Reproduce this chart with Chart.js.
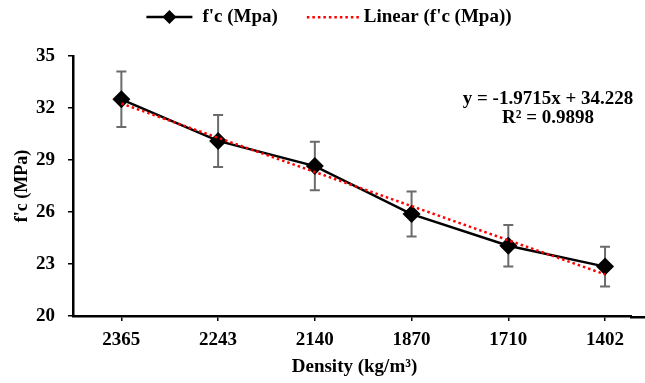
<!DOCTYPE html>
<html>
<head>
<meta charset="utf-8">
<script src="https://cdn.jsdelivr.net/npm/chart.js@4"></script>
<style>
  html, body { margin: 0; padding: 0; background: #fff; }
  #wrap { width: 645px; height: 383px; }
</style>
</head>
<body>
<div id="wrap"><canvas id="chart" width="645" height="383"></canvas></div>
<script>
// データ
const densities = ["2365", "2243", "2140", "1870", "1710", "1402"];
const strength = [32.5, 30.1, 28.65, 25.88, 24.05, 22.85];
const errors = [1.6, 1.5, 1.4, 1.3, 1.2, 1.15];
const trend = [32.26, 30.28, 28.31, 26.34, 24.37, 22.40];
const yTicks = [20, 23, 26, 29, 32, 35];
const equation = ["y = -1.9715x + 34.228", "R\u00b2 = 0.9898"];

const FONT = "'Liberation Serif', 'Times New Roman', serif";

// エラーバーと凡例・近似式を描くプラグイン
const extras = {
    id: "extras",
    beforeDatasetsDraw(chart) {
        const ctx = chart.ctx;
        const xs = chart.scales.x;
        const ys = chart.scales.y;
        ctx.save();
        ctx.strokeStyle = "#6b6b6b";
        ctx.lineWidth = 2;
        strength.forEach((v, i) => {
            const x = xs.getPixelForValue(i);
            const top = ys.getPixelForValue(v + errors[i]);
            const bot = ys.getPixelForValue(v - errors[i]);
            ctx.beginPath();
            ctx.moveTo(x, top);
            ctx.lineTo(x, bot);
            ctx.moveTo(x - 5, top);
            ctx.lineTo(x + 5, top);
            ctx.moveTo(x - 5, bot);
            ctx.lineTo(x + 5, bot);
            ctx.stroke();
        });
        ctx.restore();
    },
    afterDraw(chart) {
        const ctx = chart.ctx;
        const ds = chart.data.datasets;
        ctx.save();
        ctx.strokeStyle = "#000";
        ctx.lineWidth = 2.5;
        ctx.textBaseline = "middle";

        // 右端の余計な線を消してx軸を端まで延ばす
        const a = chart.chartArea;
        ctx.fillStyle = "#fff";
        ctx.fillRect(a.right - 4, a.bottom - 14, 645 - a.right + 4, 28);
        ctx.fillStyle = "#000";
        ctx.fillRect(a.right - 6, a.bottom, 645 - a.right + 6, 2.5);

        // 凡例
        ctx.font = "bold 19px " + FONT;
        const w1 = ctx.measureText(ds[0].label).width;
        const w2 = ctx.measureText(ds[1].label).width;
        const total = 46 + 10 + w1 + 29 + 50 + 7 + w2;
        let x = 329 - total / 2;
        const y = 17;
        ctx.beginPath();
        ctx.moveTo(x, y);
        ctx.lineTo(x + 46, y);
        ctx.stroke();
        ctx.beginPath();
        ctx.moveTo(x + 23, y - 7);
        ctx.lineTo(x + 30, y);
        ctx.lineTo(x + 23, y + 7);
        ctx.lineTo(x + 16, y);
        ctx.closePath();
        ctx.fill();
        x += 56;
        ctx.textAlign = "left";
        ctx.fillText(ds[0].label, x, y);
        x += w1 + 29;
        ctx.fillStyle = "#ff0000";
        for (let d = 0; d < 50; d += 5.5) {
            ctx.fillRect(x + d, y - 1, 2.5, 2.5);
        }
        ctx.fillStyle = "#000";
        x += 57;
        ctx.fillText(ds[1].label, x, y);

        // 近似式
        ctx.textAlign = "center";
        ctx.fillText(equation[0], 548, 99);
        ctx.fillText(equation[1], 548, 118);
        ctx.restore();
    }
};

const ctx = document.querySelector("#chart").getContext("2d");

new Chart(ctx, {
    type: "line",
    data: {
        datasets: [
            {
                label: "f'c (Mpa)",
                data: strength.map((v, i) => ({ x: i, y: v })),
                borderColor: "#000",
                backgroundColor: "#000",
                borderWidth: 2.5,
                pointStyle: "rectRot",
                pointRadius: 9,
                pointHoverRadius: 9,
                pointBackgroundColor: "#000",
                pointBorderWidth: 0,
                tension: 0,
                order: 1,
            },
            {
                label: "Linear (f'c (Mpa))",
                data: trend.map((v, i) => ({ x: i, y: v })),
                borderColor: "#ff0000",
                borderWidth: 2.5,
                borderDash: [2.5, 3],
                pointRadius: 0,
                tension: 0,
                order: 0,
            },
        ],
    },
    options: {
        responsive: false,
        animation: false,
        layout: { padding: { left: 0, right: 0, top: 56, bottom: 0 } },
        plugins: {
            tooltip: { enabled: false },
            legend: { display: false },
        },
        scales: {
            x: {
                type: "linear",
                min: -0.5,
                max: 5.32,
                afterBuildTicks(scale) {
                    scale.ticks = densities.map((d, i) => ({ value: i }));
                },
                afterFit(scale) {
                    scale.height = 67;
                },
                ticks: {
                    callback: (v) => densities[v],
                    font: { family: FONT, size: 19, weight: "bold" },
                    color: "#000",
                    padding: 8,
                    maxRotation: 0,
                },
                grid: {
                    drawOnChartArea: false,
                    drawTicks: true,
                    tickLength: 5,
                    color: "#000",
                    lineWidth: 1.5,
                },
                border: { color: "#000", width: 2.5 },
                title: {
                    display: true,
                    text: "Density (kg/m\u00b3)",
                    font: { family: FONT, size: 19, weight: "bold" },
                    color: "#000",
                    padding: { top: 0, bottom: 5 },
                },
            },
            y: {
                min: 20,
                max: 35,
                afterBuildTicks(scale) {
                    scale.ticks = yTicks.map((v) => ({ value: v }));
                },
                afterFit(scale) {
                    scale.width = 73;
                },
                ticks: {
                    font: { family: FONT, size: 19, weight: "bold" },
                    color: "#000",
                    padding: 13,
                },
                grid: {
                    drawOnChartArea: false,
                    drawTicks: true,
                    tickLength: 5,
                    color: "#000",
                    lineWidth: 1.5,
                },
                border: { color: "#000", width: 2.5 },
                title: {
                    display: true,
                    text: "f'c (MPa)",
                    font: { family: FONT, size: 18, weight: "bold" },
                    color: "#000",
                    padding: { top: 12, bottom: 0 },
                },
            },
        },
    },
    plugins: [extras],
});
</script>
</body>
</html>
